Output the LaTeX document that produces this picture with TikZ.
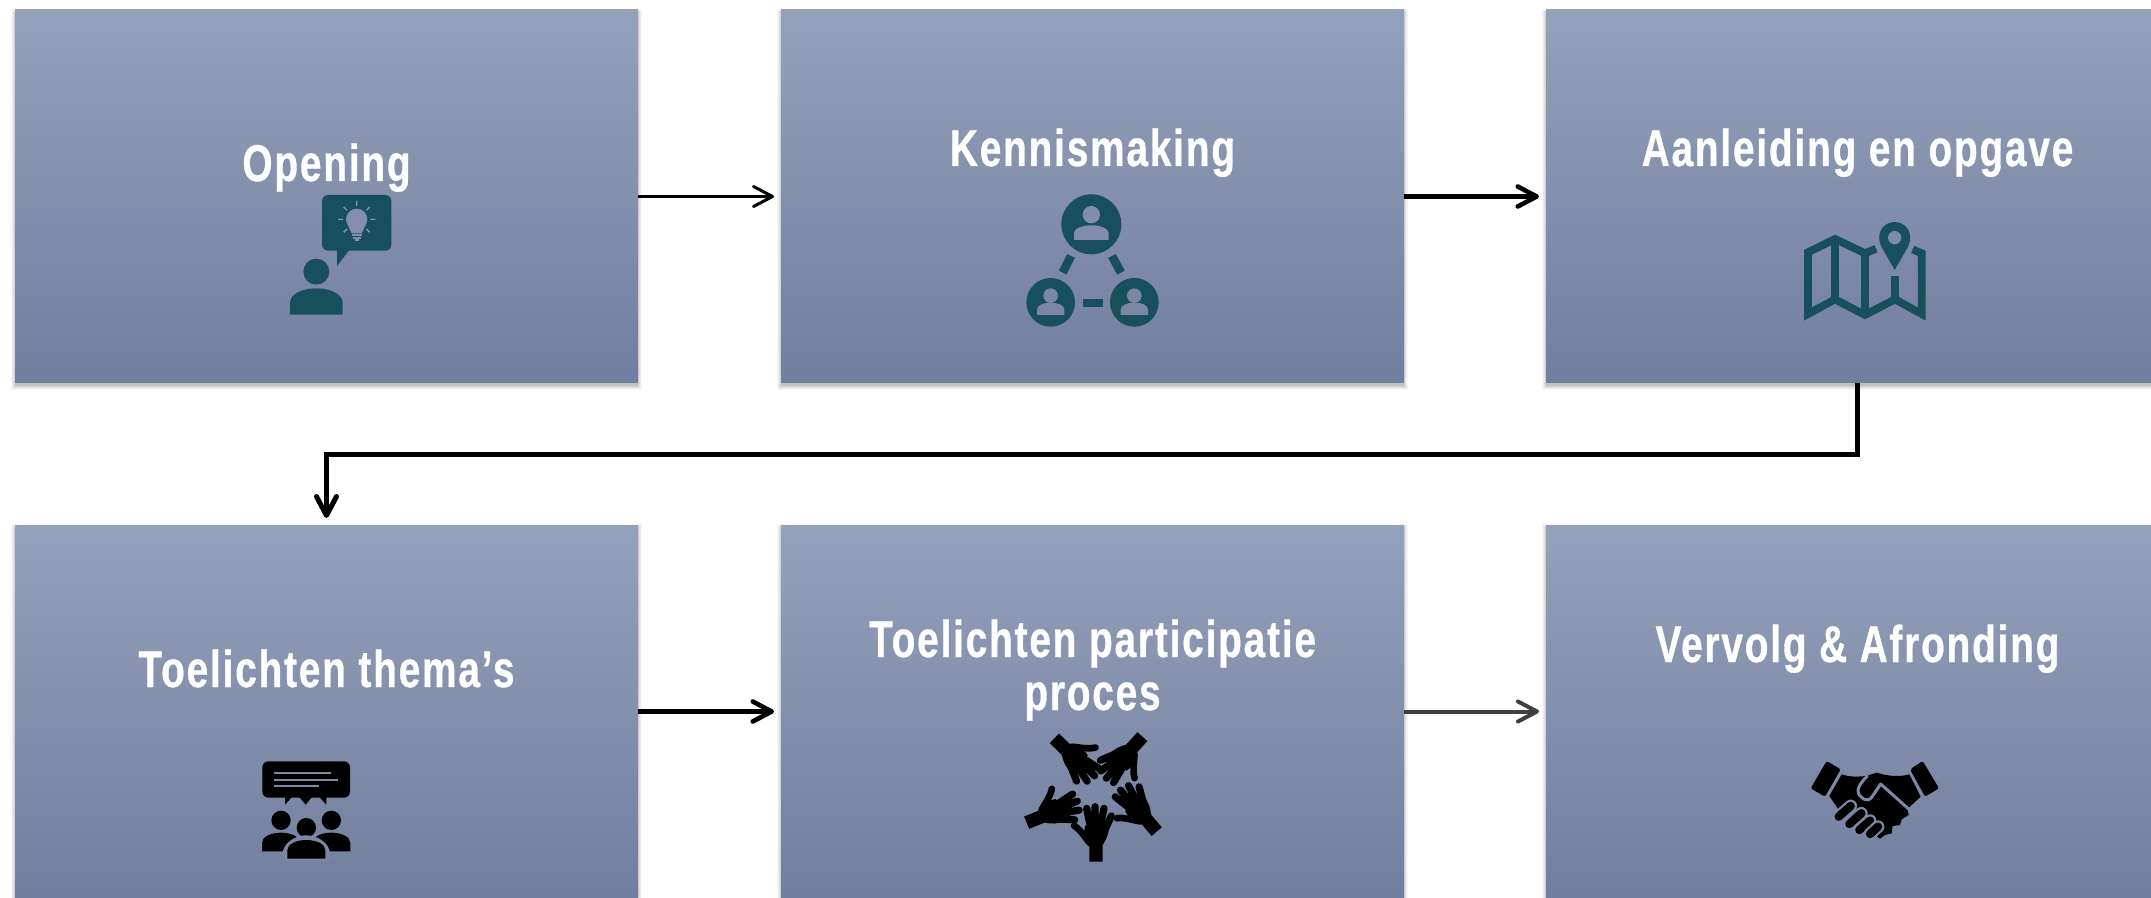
\documentclass[tikz,border=0pt]{standalone}
\usepackage{fontspec}
\setmainfont[FakeStretch=0.75,LetterSpace=3.6,FakeBold=0.7]{Liberation Sans Bold}
\usetikzlibrary{arrows.meta,calc}
\definecolor{gradtop}{HTML}{95A0BA}
\definecolor{gradbot}{HTML}{727E9E}
\definecolor{iconteal}{HTML}{174F5A}
\definecolor{bgopen}{HTML}{828EAC}
\definecolor{bgkenA}{HTML}{818DAA}
\definecolor{bgkenB}{HTML}{7A86A4}
\definecolor{bgmap}{HTML}{7E8AA8}
\definecolor{bgteam}{HTML}{7B87A5}
\definecolor{bghand}{HTML}{7C88A6}
\definecolor{darkarrow}{HTML}{404040}
\newcommand{\domeshape}[6]{%
  \fill[#1,shift={(#2,#3)},xscale=#4,yscale=#5,#6]
    (-1,1) -- (-1,.55) .. controls (-1,.2) and (-.5,0) .. (0,0)
    .. controls (.5,0) and (1,.2) .. (1,.55) -- (1,1) -- cycle;}
\newcommand{\handshape}[3]{%
  \begin{scope}[shift={(#1,#2)},rotate=#3]
    \fill[black] (-20,0) -- (20,0) -- (20,-50) .. controls (30,-65) and (40,-85) .. (38,-108)
       -- (-33,-108) .. controls (-38,-85) and (-32,-65) .. (-20,-50) -- cycle;
    \draw[black,line width=3.6pt,line cap=round]
      (-28,-160) -- (-15,-95) (-3,-165) -- (-3,-95) (24,-160) -- (10,-95) (46,-137) -- (22,-85);
    \draw[black,line width=3.3pt,line cap=round] (-66,-108) .. controls (-45,-95) and (-35,-75) .. (-18,-55);
  \end{scope}}
\newcommand{\softshadow}[2]{%
  \foreach \w/\o in {4/.03,3/.04,2/.05,1/.06,0/.08}{
    \fill[black,fill opacity=\o] (#1-\w,#2+3-\w) rectangle (#1+623+\w,#2+373+3+\w);
  }}
\tikzset{
  stepbox/.style={
    anchor=north west,minimum width=311.5pt,minimum height=186.5pt,inner sep=0pt,outer sep=0pt,
    top color=gradtop,bottom color=gradbot},
  boxtitle/.style={anchor=base,text=white,inner sep=0pt,font=\fontsize{25.8}{30}\selectfont},
  thinarrow/.style={-{Straight Barb[length=9.5pt,width=10pt,round]},line width=1.5pt,shorten >=3.5pt},
  boldarrow/.style={-{Straight Barb[length=9.5pt,width=10pt,round]},line width=2.3pt,shorten >=3.5pt},
  greyarrow/.style={-{Straight Barb[length=9.5pt,width=10pt,round]},line width=2pt,shorten >=3.5pt,draw=darkarrow},
  iconlocal/.style={scale=0.33333},
}
\begin{document}
\begin{tikzpicture}[x=0.5pt,y=-0.5pt]
\clip (0,0) rectangle (2151,898);
\fill[white] (0,0) rectangle (2151,898);
% shadows
\softshadow{15}{10}
\softshadow{781}{10}
\softshadow{1546}{10}
\softshadow{15}{525}
\softshadow{781}{525}
\softshadow{1546}{525}
% boxes
\node[stepbox] (b1) at (15,10) {};
\node[stepbox] (b2) at (781,10) {};
\node[stepbox] (b3) at (1546,10) {};
\node[stepbox] (b4) at (15,525) {};
\node[stepbox] (b5) at (781,525) {};
\node[stepbox] (b6) at (1546,525) {};
% connectors
\coordinate (bend) at (1857.5,454);
\draw[thinarrow] (b1) -- (b2);
\draw[boldarrow] (b2) -- (b3);
\draw[boldarrow,line width=2.5pt] (b3.south) -- (bend) -| (b4.north);
\draw[boldarrow] (b4) -- (b5);
\draw[greyarrow] (b5) -- (b6);
% titles
\node[boxtitle] (t1) at (326.5,181) {Opening};
\node[boxtitle] (t2) at (1092.5,166) {Kennismaking};
\node[boxtitle] (t3) at (1857.5,166) {Aanleiding en opgave};
\node[boxtitle] (t4) at (326.5,687) {Toelichten thema’s};
\node[boxtitle] (t5a) at (1092.5,657) {Toelichten participatie};
\node[boxtitle] (t5b) at (1092.5,710) {proces};
\node[boxtitle] (t6) at (1857.5,662) {Vervolg \& Afronding};
% icon: Opening
\begin{scope}[shift={(200,120)},iconlocal]
  \fill[iconteal,rounded corners=3pt] (366,225) rectangle (574,392);
  \fill[iconteal] (411,385) -- (411,438) -- (452,385) -- cycle;
  \fill[iconteal] (349,455) circle[radius=39];
  \domeshape{iconteal}{349}{505}{79}{79}{}
  \fill[bgopen] (470,298) circle[radius=32];
  \fill[bgopen] (443,315) -- (455,340) -- (485,340) -- (497,315) -- cycle;
  \draw[bgopen,line width=.9pt] (455,346) -- (485,346) (458,354) -- (482,354) (464,361) -- (476,361);
  \draw[bgopen,line width=.75pt]
    (470,243) -- (470,258) (431,261) -- (441,271) (509,261) -- (499,271)
    (414,298) -- (429,298) (511,298) -- (526,298) (431,337) -- (441,327) (509,337) -- (499,327);
\end{scope}
% icon: Kennismaking
\begin{scope}[shift={(960,110)},iconlocal]
  \fill[iconteal] (394,343) circle[radius=90];
  \fill[iconteal] (272,577) circle[radius=73];
  \fill[iconteal] (523,577) circle[radius=73];
  \fill[bgkenA] (394,314) circle[radius=26];
  \domeshape{bgkenA}{394}{346}{52}{44}{}
  \fill[bgkenB] (272,557) circle[radius=22];
  \domeshape{bgkenB}{272}{578}{41}{37}{}
  \fill[bgkenB] (523,557) circle[radius=22];
  \domeshape{bgkenB}{523}{578}{41}{37}{}
  \draw[iconteal,line width=4.3pt] (333,438) -- (308,488);
  \draw[iconteal,line width=4.3pt] (456,438) -- (483,488);
  \fill[iconteal] (368,568) rectangle (428,591);
\end{scope}
% icon: map
\begin{scope}[shift={(1740,120)},iconlocal]
  \draw[iconteal,line width=3.9pt,miter limit=4]
    (408,386) -- (375,400) -- (285,357) -- (204,397) -- (204,582) -- (285,538) -- (375,585)
    -- (465,538) -- (545,582) -- (545,400) -- (518,388);
  \draw[iconteal,line width=3.9pt] (285,357) -- (285,538) (375,400) -- (375,585) (465,467) -- (465,538);
  \fill[iconteal] (464,450) -- (424,380) .. controls (405,340) and (430,306) .. (464,306)
     .. controls (498,306) and (523,340) .. (504,380) -- cycle;
  \fill[bgmap] (464,353) circle[radius=20];
\end{scope}
% icon: team
\begin{scope}[shift={(230,730)},iconlocal]
  \fill[black,rounded corners=3pt] (97,94) rectangle (360,203);
  \fill[black] (165,200) -- (165,224) -- (187,200) -- cycle
               (207,200) -- (227,224) -- (247,200) -- cycle
               (267,200) -- (289,224) -- (289,200) -- cycle;
  \draw[bgteam,line width=1pt] (133,130) -- (303,130) (133,149) -- (325,149) (133,167) -- (267,167);
  \fill[black] (153,271) circle[radius=29] (304,271) circle[radius=29] (229,293) circle[radius=29];
  \domeshape{black}{153}{308}{57}{56}{}
  \domeshape{black}{304}{308}{57}{56}{}
  \fill[bgteam] (158,395) -- (158,372) .. controls (158,340) and (195,316) .. (229,316)
     .. controls (263,316) and (300,340) .. (300,372) -- (300,395) -- cycle;
  \domeshape{black}{229}{330}{57}{56}{}
\end{scope}
% icon: hands
\begin{scope}[shift={(1000,720)},iconlocal]
  \handshape{288}{425}{0}
  \handshape{470}{335}{40}
  \handshape{427}{50}{138}
  \handshape{163}{55}{226}
  \handshape{80}{308}{-68}
\end{scope}
% icon: handshake
\begin{scope}[shift={(1790,740)},iconlocal]
  \fill[black,rounded corners=1pt] (110,63) -- (152,88) -- (105,170) -- (62,145) -- cycle;
  \fill[black,rounded corners=1pt] (398,63) -- (360,88) -- (405,170) -- (447,145) -- cycle;
  \fill[black] (155,103) .. controls (180,112) and (205,110) .. (228,108) -- (260,98)
     .. controls (290,108) and (330,112) .. (358,103) -- (392,170) -- (352,207) -- (356,225)
     -- (335,238) -- (330,255) -- (308,258) -- (305,280) -- (285,285) -- (270,296)
     -- (150,215) -- (118,168) -- cycle;
  \draw[bghand,line width=1.5pt,line join=round,line cap=round]
    (232,108) .. controls (215,125) and (204,140) .. (204,152)
    .. controls (204,172) and (232,190) .. (245,172) -- (272,132) -- (356,207);
  \foreach \xa/\ya/\xb/\yb in {146/230/182/198,178/252/214/220,208/270/240/242,240/282/264/260}{
    \draw[bghand,line width=6.4pt,line cap=round] (\xa,\ya) -- (\xb,\yb);
    \draw[black,line width=4.2pt,line cap=round] (\xa,\ya) -- (\xb,\yb);
  }
\end{scope}
\end{tikzpicture}
\end{document}
